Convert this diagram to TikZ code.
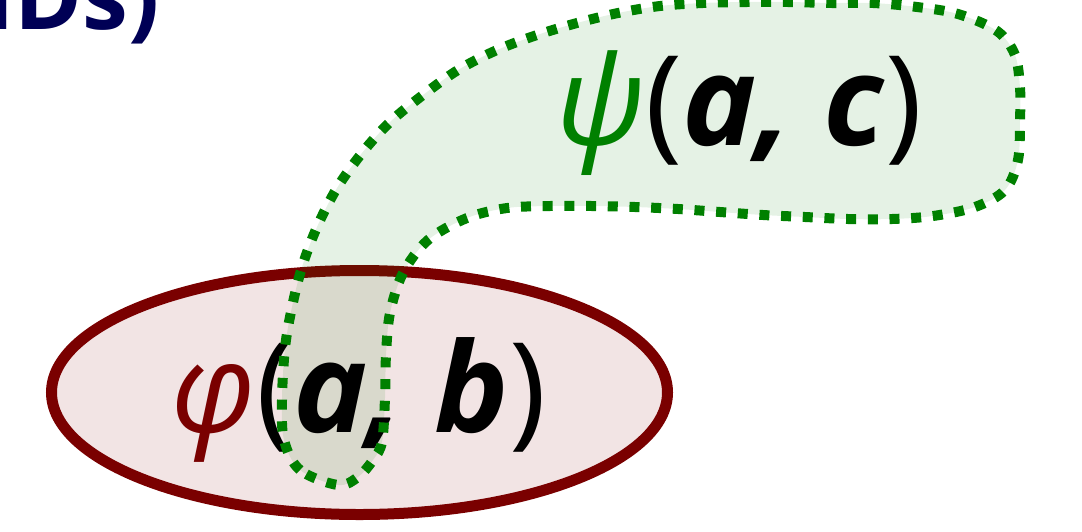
\documentclass[tikz,border=0pt]{standalone}
\usepackage{fontspec}
\setmainfont{Open Sans}
\usepackage{tikz}
\definecolor{setred}{RGB}{122,0,0}
\definecolor{setpink}{RGB}{242,228,228}
\definecolor{setgreen}{RGB}{0,128,0}
\definecolor{titlenavy}{RGB}{0,0,85}
\newcommand{\blobpath}{plot[smooth cycle, tension=0.55] coordinates {
        (338,485) (300,470) (284,440) (282,400) (285,348) (292,307) (302,267)
        (317,227) (337,188) (362,153) (390,122) (423,95) (458,70) (497,50)
        (537,35) (577,23) (618,13) (660,6) (703,3) (747,2) (788,2) (832,3)
        (873,3) (917,7) (958,14) (997,31) (1015,55) (1020,88) (1020,120)
        (1018,160) (1005,190) (975,207) (933,216) (892,219) (848,219) (805,217)
        (763,215) (720,212) (678,209) (635,207) (592,206) (550,206) (507,208)
        (467,218) (428,240) (403,273) (390,313) (386,355) (385,398) (382,442)
        (373,460) (358,477)}}

\begin{document}
\begin{tikzpicture}[x=1pt, y=-1pt,
    bigtext/.style={font=\fontsize{125}{150}\selectfont, inner sep=0pt, anchor=base},
    dotline/.style={setgreen, line width=10pt, dash pattern=on 10pt off 11.7pt}]
    \useasboundingbox (0,0) rectangle (1082,531);

    % Title, cut off by the frame
    \begin{scope}
        \clip (0,0) rectangle (1082,531);
        \node[titlenavy, font=\fontsize{92}{110}\selectfont\bfseries, inner sep=0pt, anchor=base east] (title) at (160,29) {IDs)};
    \end{scope}

    % First set
    \draw[setred, line width=11pt, fill=setpink] (359.5,392.5) ellipse [x radius=308, y radius=122];

    % Second set: fill first, dots over the text
    \fill[setgreen, fill opacity=0.1] \blobpath;
    \node[bigtext] (phiab) at (359,432) {\textit{\color{setred}φ}(\textbf{\textit{a,}} \textbf{\textit{b}})};
    \draw[dotline] \blobpath;
    \node[bigtext] (psiac) at (739,145) {\textit{\color{setgreen}ψ}(\textbf{\textit{a,}} \textbf{\textit{c}})};
\end{tikzpicture}
\end{document}
